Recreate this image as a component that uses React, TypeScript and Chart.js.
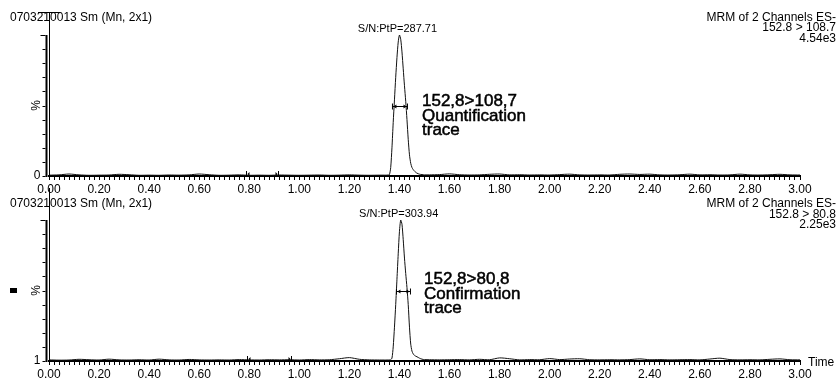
import React, { useEffect, useRef } from 'react';
import { Chart, registerables } from 'chart.js';
Chart.register(...registerables);

// ---- Data (retention time in minutes, relative intensity in %) ----
const timeBase = [0.00, 0.04, 0.08, 0.12, 0.16, 0.20, 0.24, 0.28, 0.32, 0.36, 0.40, 0.44, 0.48, 0.52, 0.56, 0.60, 0.64, 0.68, 0.72, 0.76, 0.80, 0.84, 0.88, 0.92, 0.96, 1.00, 1.04, 1.08, 1.12, 1.16, 1.20, 1.24, 1.28, 1.32];
const timePeak = [1.340, 1.345, 1.350, 1.355, 1.360, 1.365, 1.370, 1.375, 1.380, 1.385, 1.390, 1.395, 1.400, 1.405, 1.410, 1.415, 1.420, 1.425, 1.430, 1.435, 1.440, 1.445, 1.450, 1.455, 1.460, 1.465, 1.470, 1.475, 1.480, 1.485, 1.490, 1.495, 1.500];
const timeTail = [1.52, 1.56, 1.60, 1.64, 1.68, 1.72, 1.76, 1.80, 1.84, 1.88, 1.92, 1.96, 2.00, 2.04, 2.08, 2.12, 2.16, 2.20, 2.24, 2.28, 2.32, 2.36, 2.40, 2.44, 2.48, 2.52, 2.56, 2.60, 2.64, 2.68, 2.72, 2.76, 2.80, 2.84, 2.88, 2.92, 2.96, 3.00];

// 152.8 > 108.7 (quantification trace)
const quantBase = [0.6, 0.8, 1.4, 0.8, 0.5, 0.6, 0.7, 1.2, 0.9, 0.5, 0.6, 0.5, 0.7, 0.6, 0.8, 1.4, 0.9, 0.5, 0.6, 0.8, 0.5, 0.6, 0.5, 0.7, 0.6, 0.5, 0.6, 0.7, 0.5, 0.6, 0.8, 0.6, 0.5, 0.6];
const quantPeak = [0.6, 0.6, 0.6, 0.7, 1.0, 6, 20, 38, 54, 70, 84, 95, 100, 97, 88, 76, 64, 53, 40, 26, 15, 9, 6, 4.5, 3.5, 2.6, 2.0, 1.6, 1.3, 1.1, 1.0, 0.9, 0.8];
const quantTail = [0.8, 1.0, 1.5, 0.9, 0.7, 0.8, 1.2, 1.4, 0.8, 0.9, 0.7, 0.8, 0.7, 1.0, 1.3, 0.8, 0.7, 0.8, 0.7, 1.2, 1.4, 1.1, 1.3, 0.8, 0.7, 0.9, 1.3, 0.8, 0.9, 0.7, 0.8, 1.3, 0.8, 0.7, 0.9, 1.2, 0.8, 0.7];

// 152.8 > 80.8 (confirmation trace)
const confBase = [0.8, 0.6, 0.7, 1.2, 0.9, 0.7, 1.3, 0.8, 0.7, 0.9, 0.7, 1.3, 0.8, 0.7, 1.1, 0.8, 0.7, 0.8, 0.7, 1.0, 0.8, 0.7, 0.9, 0.8, 0.9, 0.7, 1.0, 0.8, 0.9, 1.6, 2.4, 1.2, 0.8, 0.7];
const confPeak = [0.7, 0.7, 0.7, 0.7, 0.8, 0.9, 2, 10, 24, 40, 58, 76, 92, 100, 97, 86, 73, 62, 52, 40, 24, 12, 7, 5, 4, 3.4, 3, 2.5, 2, 1.6, 1.3, 1.1, 1.0];
const confTail = [0.9, 0.8, 0.9, 1.0, 0.8, 1.2, 0.9, 2.2, 1.6, 0.8, 1.0, 0.9, 1.7, 1.0, 1.4, 1.6, 0.9, 0.8, 0.9, 0.8, 1.0, 1.5, 0.9, 1.0, 0.8, 0.9, 1.0, 0.8, 1.4, 2.0, 1.0, 0.8, 0.9, 0.8, 1.2, 1.5, 0.9, 0.8];

const xMajorTicks = [0.0, 0.2, 0.4, 0.6, 0.8, 1.0, 1.2, 1.4, 1.6, 1.8, 2.0, 2.2, 2.4, 2.6, 2.8, 3.0];
const xMinorStep = 0.02;
const yTickPercents = [0, 10, 20, 30, 40, 50, 60, 70, 80, 90, 100];

const FONT = '"Liberation Sans", Arial, Helvetica, sans-serif';

type Panel = {
  title: string;
  header: string[];
  sn: string;
  apexTime: number;
  annot: string[];
  halfWidth: number[];
  noiseMarks: number[];
  yBottomLabel: string;
  values: number[];
};

const panels: Panel[] = [
  {
    title: '0703210013 Sm (Mn, 2x1)',
    header: ['MRM of 2 Channels ES-', '152.8 > 108.7', '4.54e3'],
    sn: 'S/N:PtP=287.71',
    apexTime: 1.40,
    annot: ['152,8>108,7', 'Quantification', 'trace'],
    halfWidth: [1.372, 1.432],
    noiseMarks: [0.786, 0.914],
    yBottomLabel: '0',
    values: [...quantBase, ...quantPeak, ...quantTail],
  },
  {
    title: '0703210013 Sm (Mn, 2x1)',
    header: ['MRM of 2 Channels ES-', '152.8 > 80.8', '2.25e3'],
    sn: 'S/N:PtP=303.94',
    apexTime: 1.405,
    annot: ['152,8>80,8', 'Confirmation', 'trace'],
    halfWidth: [1.388, 1.444],
    noiseMarks: [0.79, 0.966],
    yBottomLabel: '1',
    values: [...confBase, ...confPeak, ...confTail],
  },
];

const times = [...timeBase, ...timePeak, ...timeTail];

type Layout = {
  top: number;
  height: number;
  pad: { top: number; left: number; right: number; bottom: number };
  titleY: number;
  headerY: number[];
  snY: number;
  annotX: number;
  annotY: number[];
  cursorTop: number;
  cursorBar: boolean;
  showTime: boolean;
  square: boolean;
};

const layouts: Layout[] = [
  {
    top: 0, height: 200,
    pad: { top: 35, left: 49, right: 38, bottom: 1.6 },
    titleY: 21, headerY: [20.5, 31, 41.5], snY: 32,
    annotX: 422, annotY: [106, 121, 135],
    cursorTop: 12, cursorBar: true, showTime: false, square: false,
  },
  {
    top: 188, height: 196,
    pad: { top: 32, left: 49, right: 38, bottom: 0.6 },
    titleY: 18.5, headerY: [18.5, 29.5, 40], snY: 29,
    annotX: 424, annotY: [96, 111, 125],
    cursorTop: 0, cursorBar: false, showTime: true, square: true,
  },
];

function makeOverlay(p: Panel, l: Layout) {
  return {
    id: 'overlay',
    afterDraw(chart: any) {
      const ctx = chart.ctx as CanvasRenderingContext2D;
      const xs = chart.scales.x;
      const ys = chart.scales.y;
      const area = chart.chartArea;
      ctx.save();
      ctx.fillStyle = '#000';
      ctx.strokeStyle = '#000';

      // y axis
      const ax = area.left - 2.5;
      ctx.lineWidth = 2;
      ctx.beginPath();
      ctx.moveTo(ax, area.top);
      ctx.lineTo(ax, area.bottom + 1);
      ctx.stroke();
      ctx.lineWidth = 1;
      yTickPercents.forEach((v) => {
        const y = Math.round(ys.getPixelForValue(v)) + 0.5;
        const len = v === 100 ? 5 : 3;
        ctx.beginPath();
        ctx.moveTo(ax - 1, y);
        ctx.lineTo(ax - 1 - len, y);
        ctx.stroke();
      });
      ctx.font = `12px ${FONT}`;
      ctx.textAlign = 'center';
      ctx.textBaseline = 'middle';
      ctx.fillText(p.yBottomLabel, 37, area.bottom);
      ctx.save();
      ctx.translate(37, (area.top + area.bottom) / 2);
      ctx.rotate(-Math.PI / 2);
      ctx.font = `12px ${FONT}`;
      ctx.fillText('%', 0, 0);
      ctx.restore();

      // cursor line at t = 0
      const cx = Math.round(xs.getPixelForValue(0)) + 0.5;
      ctx.lineWidth = 1;
      ctx.beginPath();
      ctx.moveTo(cx, l.cursorTop);
      ctx.lineTo(cx, area.bottom);
      ctx.stroke();
      if (l.cursorBar) {
        ctx.beginPath();
        ctx.moveTo(38, l.cursorTop + 0.5);
        ctx.lineTo(60, l.cursorTop + 0.5);
        ctx.stroke();
      }

      // header texts
      ctx.textBaseline = 'alphabetic';
      ctx.font = `12px ${FONT}`;
      ctx.textAlign = 'left';
      ctx.fillText(p.title, 10, l.titleY);
      ctx.textAlign = 'right';
      p.header.forEach((s, i) => ctx.fillText(s, 836, l.headerY[i]));

      // S/N label above apex
      ctx.font = `11px ${FONT}`;
      ctx.textAlign = 'center';
      ctx.fillText(p.sn, xs.getPixelForValue(p.apexTime) - 2, l.snY);

      // annotation
      ctx.font = `17px ${FONT}`;
      ctx.textAlign = 'left';
      ctx.lineWidth = 0.5;
      p.annot.forEach((s, i) => {
        ctx.fillText(s, l.annotX, l.annotY[i]);
        ctx.strokeText(s, l.annotX, l.annotY[i]);
      });

      // half width marker
      const hy = Math.round(ys.getPixelForValue(50)) + 0.5;
      const hx1 = xs.getPixelForValue(p.halfWidth[0]);
      const hx2 = xs.getPixelForValue(p.halfWidth[1]);
      ctx.lineWidth = 1;
      ctx.beginPath();
      ctx.moveTo(hx1, hy);
      ctx.lineTo(hx2, hy);
      ctx.moveTo(hx1, hy - 3);
      ctx.lineTo(hx1, hy + 3);
      ctx.moveTo(hx2, hy - 3);
      ctx.lineTo(hx2, hy + 3);
      ctx.stroke();
      [[hx1, 1], [hx2, -1]].forEach(([hx, d]) => {
        ctx.beginPath();
        ctx.moveTo(hx + d * 1, hy);
        ctx.lineTo(hx + d * 4, hy - 2);
        ctx.lineTo(hx + d * 4, hy + 2);
        ctx.closePath();
        ctx.fill();
      });

      // noise region markers on baseline
      const by = area.bottom;
      p.noiseMarks.forEach((t, i) => {
        const nx = Math.round(xs.getPixelForValue(t)) + 0.5;
        ctx.beginPath();
        ctx.moveTo(nx, by - 5);
        ctx.lineTo(nx, by + 1);
        ctx.stroke();
        const d = i === 0 ? 1 : -1;
        ctx.beginPath();
        ctx.moveTo(nx + d, by - 2);
        ctx.lineTo(nx + d * 3, by - 4);
        ctx.lineTo(nx + d * 3, by);
        ctx.closePath();
        ctx.fill();
      });

      if (l.showTime) {
        ctx.font = `12px ${FONT}`;
        ctx.textAlign = 'left';
        ctx.fillText('Time', 808, area.bottom + 5);
      }
      if (l.square) {
        ctx.fillRect(10, 100, 7, 5);
      }
      ctx.restore();
    },
  };
}

function PanelChart({ p, l }: { p: Panel; l: Layout }) {
  const ref = useRef<HTMLCanvasElement | null>(null);
  useEffect(() => {
    if (!ref.current) return;
    const data = times.map((t, i) => ({ x: t, y: p.values[i] }));
    const chart = new Chart(ref.current, {
      type: 'line',
      data: {
        datasets: [
          {
            data,
            borderColor: '#111',
            borderWidth: 1,
            pointRadius: 0,
            tension: 0.25,
            fill: false,
          },
        ],
      },
      options: {
        animation: false,
        responsive: false,
        devicePixelRatio: 1,
        layout: { padding: l.pad },
        plugins: { legend: { display: false }, tooltip: { enabled: false } },
        scales: {
          x: {
            type: 'linear',
            min: 0,
            max: 3,
            afterBuildTicks: (scale: any) => {
              const ticks: { value: number }[] = [];
              const last = xMajorTicks[xMajorTicks.length - 1];
              const n = Math.round(last / xMinorStep);
              for (let i = 0; i <= n; i++) ticks.push({ value: +(i * xMinorStep).toFixed(2) });
              scale.ticks = ticks;
            },
            ticks: {
              autoSkip: false,
              maxRotation: 0,
              padding: 2,
              color: '#000',
              font: { family: FONT, size: 12 },
              callback: (v: any) => {
                const val = Number(v);
                return xMajorTicks.some((m) => Math.abs(m - val) < 1e-6) ? val.toFixed(2) : '';
              },
            },
            grid: {
              display: true,
              drawOnChartArea: false,
              drawTicks: true,
              tickLength: 4,
              color: '#000',
            },
            border: { display: true, color: '#000', width: 2 },
          },
          y: { type: 'linear', min: 0, max: 100, display: false },
        },
      },
      plugins: [makeOverlay(p, l)],
    });
    return () => chart.destroy();
  }, [p, l]);
  return (
    <canvas
      ref={ref}
      width={838}
      height={l.height}
      style={{ position: 'absolute', left: 0, top: l.top, width: 838, height: l.height }}
    />
  );
}

export default function App() {
  return (
    <div
      style={{
        position: 'fixed',
        left: 0,
        top: 0,
        width: 838,
        height: 379,
        overflow: 'hidden',
        background: '#fff',
      }}
    >
      {panels.map((p, i) => (
        <PanelChart key={i} p={p} l={layouts[i]} />
      ))}
    </div>
  );
}
